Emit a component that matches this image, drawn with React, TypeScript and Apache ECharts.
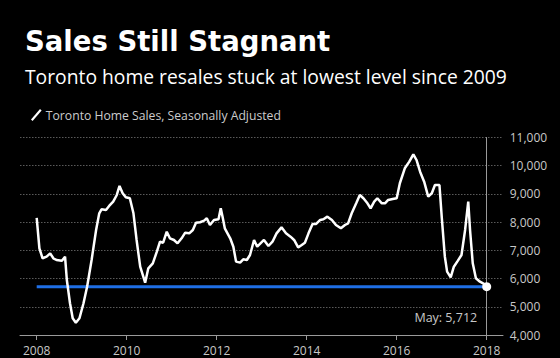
import React, { useEffect, useRef } from "react";
import * as echarts from "echarts";

const titleText = "Sales Still Stagnant";
const subtitleText = "Toronto home resales stuck at lowest level since 2009";
const seriesName = "Toronto Home Sales, Seasonally Adjusted";
const lastMonthLabel = "May";

const xTicks = [2008, 2010, 2012, 2014, 2016, 2018];
const yTicks = [4000, 5000, 6000, 7000, 8000, 9000, 10000, 11000];

// decimal year positions
const years = [
  2008.0, 2008.06, 2008.13, 2008.22, 2008.3, 2008.37, 2008.44, 2008.56, 2008.63, 2008.67,
  2008.74, 2008.8, 2008.87, 2008.95, 2009.04, 2009.12, 2009.22, 2009.32, 2009.39, 2009.44,
  2009.54, 2009.61, 2009.7, 2009.78, 2009.84, 2009.91, 2009.98, 2010.07, 2010.15, 2010.22,
  2010.3, 2010.41, 2010.48, 2010.58, 2010.67, 2010.74, 2010.81, 2010.89, 2010.96, 2011.05,
  2011.13, 2011.22, 2011.3, 2011.39, 2011.47, 2011.54, 2011.63, 2011.72, 2011.78, 2011.85,
  2011.94, 2012.04, 2012.09, 2012.13, 2012.18, 2012.3, 2012.37, 2012.43, 2012.52, 2012.59,
  2012.67, 2012.74, 2012.83, 2012.9, 2013.05, 2013.15, 2013.24, 2013.33, 2013.44, 2013.54,
  2013.64, 2013.72, 2013.81, 2013.89, 2013.96, 2014.04, 2014.13, 2014.21, 2014.3, 2014.37,
  2014.46, 2014.56, 2014.65, 2014.76, 2014.85, 2014.92, 2015.0, 2015.1, 2015.18, 2015.26,
  2015.35, 2015.42, 2015.5, 2015.57, 2015.67, 2015.74, 2015.81, 2015.91, 2016.0, 2016.07,
  2016.18, 2016.28, 2016.37, 2016.44, 2016.52, 2016.61, 2016.7, 2016.78, 2016.85, 2016.95,
  2017.0, 2017.07, 2017.12, 2017.2, 2017.27, 2017.36, 2017.44, 2017.52, 2017.59, 2017.63,
  2017.69, 2017.76, 2017.85, 2017.92, 2018.0,
];

const sales = [
  8150, 7073, 6719, 6776, 6895, 6719, 6659, 6635, 6776, 5950,
  5124, 4592, 4437, 4592, 5124, 5712, 6659, 7722, 8314, 8456,
  8431, 8573, 8725, 8963, 9282, 9023, 8881, 8846, 8314, 7368,
  6421, 5854, 6364, 6541, 6953, 7307, 7272, 7662, 7427, 7368,
  7250, 7427, 7627, 7603, 7722, 7981, 7995, 8052, 8137, 7899,
  8077, 8101, 8491, 8195, 7782, 7427, 7130, 6600, 6565, 6683,
  6659, 6836, 7368, 7130, 7368, 7155, 7307, 7603, 7816, 7603,
  7485, 7368, 7107, 7190, 7272, 7603, 7935, 7935, 8077, 8101,
  8195, 8077, 7899, 7782, 7899, 7959, 8314, 8668, 8963, 8846,
  8668, 8491, 8725, 8846, 8668, 8668, 8786, 8821, 8846, 9378,
  9909, 10144, 10405, 10203, 9789, 9434, 8903, 9023, 9317, 9317,
  8195, 6776, 6244, 6045, 6421, 6635, 6836, 7722, 8725, 7722,
  6541, 6010, 5889, 5830, 5712,
];

const FONT = "'Open Sans', sans-serif";
const TITLE_FONT = "'DejaVu Sans', sans-serif";

export default function App() {
  const ref = useRef<HTMLDivElement>(null);

  useEffect(() => {
    document.body.style.margin = "0";
    document.body.style.background = "#000";
    if (!ref.current) return;
    const chart = echarts.init(ref.current, null, { renderer: "svg" });

    const data = years.map((y, i) => [y, sales[i]]);
    const lastIdx = sales.length - 1;
    const lastVal = sales[lastIdx];
    const xMin = xTicks[0];
    const xMax = xTicks[xTicks.length - 1];
    const yMin = yTicks[0];
    const yMax = yTicks[yTicks.length - 1];
    const yStep = yTicks[1] - yTicks[0];
    const xStep = xTicks[1] - xTicks[0];

    const gridTop = 137.5;
    const gridBottom = 23;

    chart.setOption({
      animation: false,
      backgroundColor: "#000",
      textStyle: { fontFamily: FONT },
      title: [
        {
          text: titleText,
          left: 20,
          top: 22,
          textStyle: { color: "#fff", fontSize: 27.5, fontWeight: "bold", fontFamily: TITLE_FONT },
        },
        {
          text: subtitleText,
          left: 20,
          top: 62,
          textStyle: { color: "#fff", fontSize: 19.3, fontWeight: "normal", fontFamily: FONT },
        },
      ],
      legend: {
        data: [seriesName],
        left: 26,
        top: 104,
        itemWidth: 11,
        itemHeight: 12,
        itemGap: 5,
        icon: "path://M0,10 L8.5,0 L10,1.3 L1.5,11.3 Z",
        textStyle: { color: "#ccc", fontSize: 12.2, fontFamily: FONT, padding: [0, 0, 0, -1] },
        selectedMode: false,
      },
      grid: [
        { left: 36.7, right: 73.3, top: gridTop, bottom: gridBottom },
        { left: 20, right: 57, top: gridTop, bottom: gridBottom },
      ],
      xAxis: [
        {
          type: "value",
          gridIndex: 0,
          min: xMin,
          max: xMax,
          interval: xStep,
          axisLine: { show: false },
          axisTick: { show: true, length: 5, lineStyle: { color: "#9a9a9a", width: 1 } },
          axisLabel: {
            color: "#c8c8c8",
            fontSize: 12,
            margin: 9,
            fontFamily: FONT,
            formatter: (v: number) => String(Math.round(v)),
          },
          splitLine: { show: false },
        },
        {
          type: "value",
          gridIndex: 1,
          min: 0,
          max: 1,
          axisLine: { show: true, lineStyle: { color: "#9a9a9a", width: 1 } },
          axisTick: { show: false },
          axisLabel: { show: false },
          splitLine: { show: false },
        },
      ],
      yAxis: [
        {
          type: "value",
          gridIndex: 0,
          position: "right",
          min: yMin,
          max: yMax,
          interval: yStep,
          axisLine: { show: true, lineStyle: { color: "#9a9a9a", width: 1 } },
          axisTick: { show: false },
          axisLabel: {
            color: "#c8c8c8",
            fontSize: 12,
            margin: 23,
            fontFamily: FONT,
            formatter: (v: number) => v.toLocaleString("en-US"),
          },
          splitLine: { show: false },
        },
        {
          type: "value",
          gridIndex: 1,
          min: yMin,
          max: yMax,
          interval: yStep,
          axisLine: { show: false },
          axisTick: { show: false },
          axisLabel: { show: false },
          splitLine: {
            show: true,
            lineStyle: { color: "#5a5a5a", width: 1, type: [1.5, 1.5] },
          },
        },
      ],
      series: [
        {
          name: "latest",
          type: "line",
          xAxisIndex: 0,
          yAxisIndex: 0,
          data: [
            [years[0], lastVal],
            [years[lastIdx], lastVal],
          ],
          symbol: "none",
          lineStyle: { color: "#1f6fe6", width: 3 },
          z: 2,
          silent: true,
        },
        {
          name: seriesName,
          type: "line",
          xAxisIndex: 0,
          yAxisIndex: 0,
          data,
          symbol: "none",
          color: "#fff",
          lineStyle: { color: "#fff", width: 2.5 },
          z: 3,
          markPoint: {
            symbol: "circle",
            symbolSize: 9,
            itemStyle: { color: "#fff" },
            data: [{ coord: [years[lastIdx], lastVal] }],
            label: {
              show: true,
              position: "left",
              distance: 5,
              offset: [0, 31],
              color: "#c8c8c8",
              fontSize: 12.5,
              fontFamily: FONT,
              formatter: () => `${lastMonthLabel}: ${lastVal.toLocaleString("en-US")}`,
            },
          },
        },
      ],
    });

    return () => chart.dispose();
  }, []);

  return (
    <div
      ref={ref}
      style={{ position: "absolute", left: 0, top: 0, width: 560, height: 358, background: "#000" }}
    />
  );
}
